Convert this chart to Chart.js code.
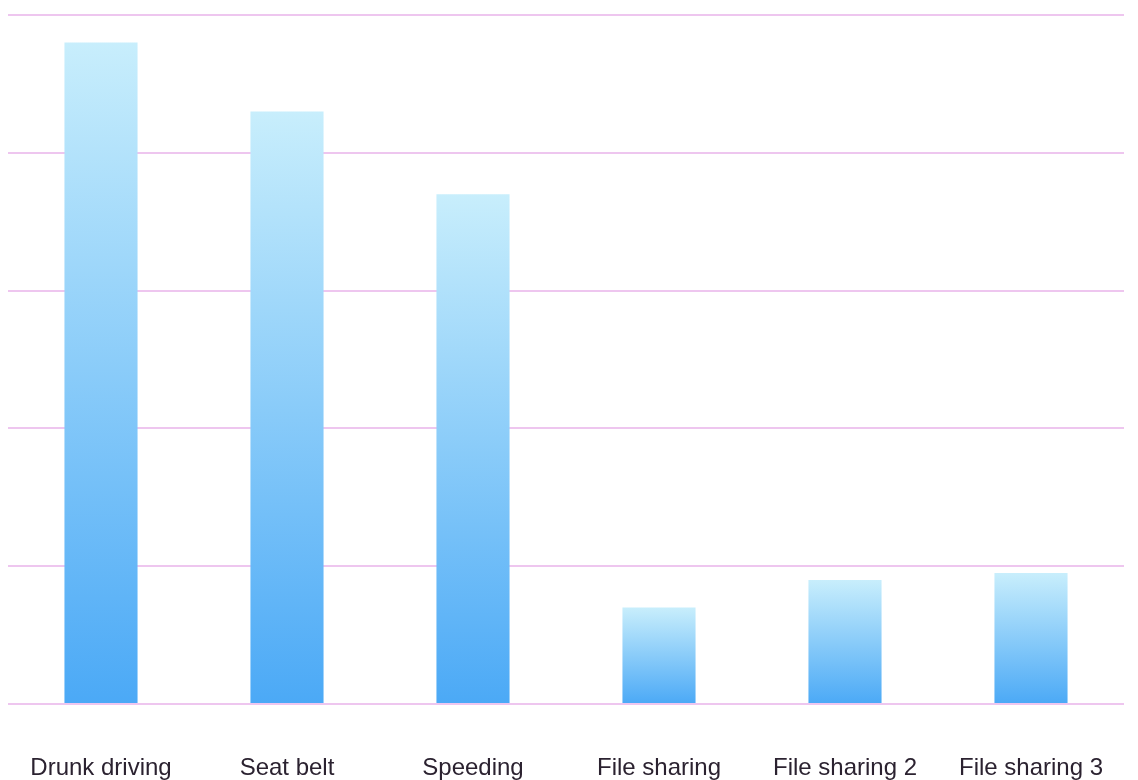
<!DOCTYPE html>
<html>
<head>
<meta charset="utf-8">
<script src="https://cdn.jsdelivr.net/npm/chart.js@4"></script>
<style>
  html, body { margin: 0; padding: 0; background: #fff; }
  #wrap { width: 1138px; height: 780px; }
</style>
</head>
<body>
<div id="wrap"><canvas id="grafik" width="1138" height="780"></canvas></div>
<script>
const categories = ["Drunk driving", "Seat belt", "Speeding", "File sharing", "File sharing 2", "File sharing 3"];
const values = [96, 86, 74, 14, 18, 19];
const yTicks = [0, 20, 40, 60, 80, 100];

function gradientBar(context) {
  const chart = context.chart;
  const y = chart.scales.y;
  if (!chart.chartArea || !y || context.raw === undefined) return "#7cc4f8";
  const top = y.getPixelForValue(context.raw);
  const base = y.getPixelForValue(0);
  const g = chart.ctx.createLinearGradient(0, top, 0, base);
  g.addColorStop(0, "#c8eefc");
  g.addColorStop(1, "#4ba9f6");
  return g;
}

const ctx = document.getElementById("grafik").getContext("2d");
new Chart(ctx, {
  type: "bar",
  data: {
    labels: categories,
    datasets: [{
      data: values,
      backgroundColor: gradientBar,
      borderWidth: 0,
      categoryPercentage: 1,
      barPercentage: 0.393
    }]
  },
  options: {
    responsive: false,
    animation: false,
    layout: { padding: { left: 8, right: 14, top: 15, bottom: 0 } },
    plugins: { legend: { display: false }, tooltip: { enabled: false } },
    scales: {
      x: {
        grid: { display: false, drawTicks: false },
        border: { display: false },
        ticks: {
          padding: 52,
          color: "#2b2230",
          font: { family: "'Liberation Sans', Arial, sans-serif", size: 24, lineHeight: 1 },
          maxRotation: 0,
          autoSkip: false
        },
        afterFit: axis => {
          // label padding otherwise eats into the plot width
          axis.height = 76;
          axis.paddingLeft = 0;
          axis.paddingRight = 0;
        }
      },
      y: {
        min: yTicks[0],
        max: yTicks[yTicks.length - 1],
        afterBuildTicks: axis => { axis.ticks = yTicks.map(v => ({ value: v })); },
        grid: { color: "#eec6ef", lineWidth: 2, drawTicks: false },
        border: { display: false },
        ticks: { display: false }
      }
    }
  }
});
</script>
</body>
</html>
